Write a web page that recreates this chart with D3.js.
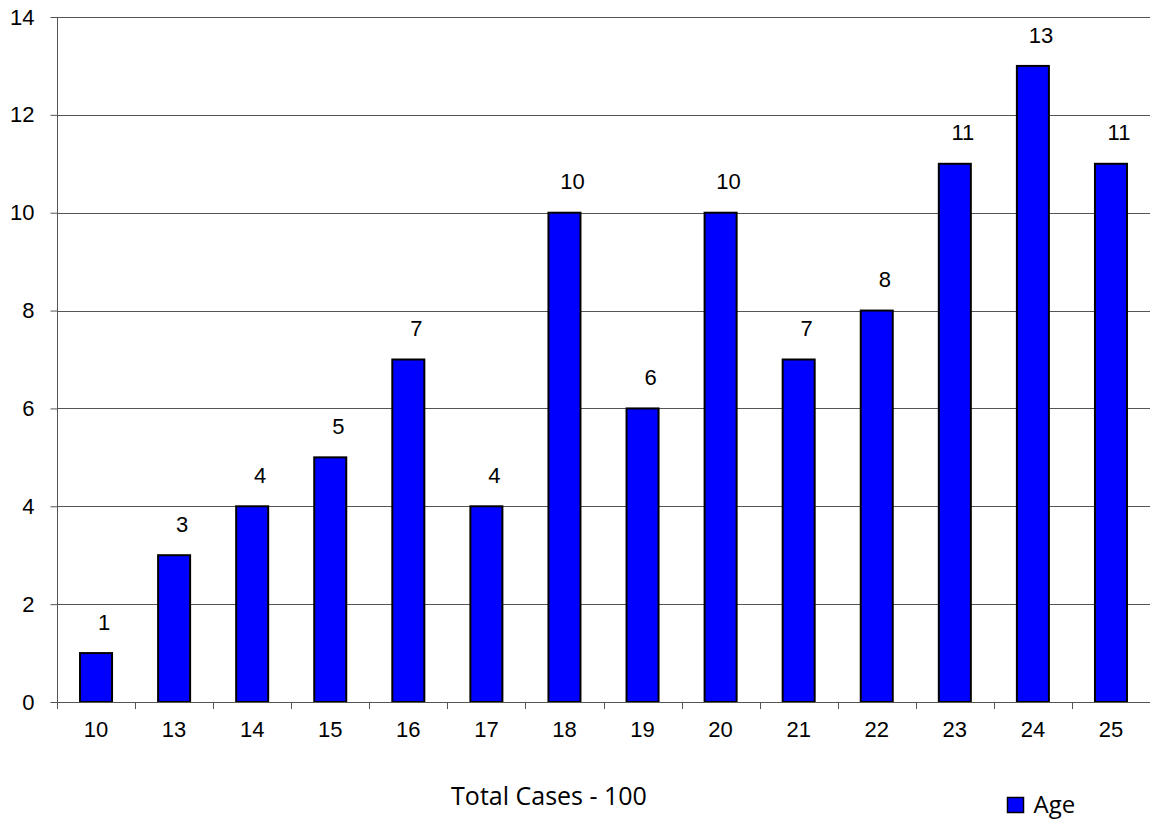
<!DOCTYPE html>
<html>
<head>
<meta charset="utf-8">
<script src="https://cdn.jsdelivr.net/npm/d3@7"></script>
<style>
  body { margin: 0; background: #fff; }
  svg { display: block; }
</style>
</head>
<body>
<svg id="chart" width="1150" height="821"></svg>
<script>
const ages = ["10", "13", "14", "15", "16", "17", "18", "19", "20", "21", "22", "23", "24", "25"];
const counts = [1, 3, 4, 5, 7, 4, 10, 6, 10, 7, 8, 11, 13, 11];
const yTicks = [0, 2, 4, 6, 8, 10, 12, 14];
const seriesName = "Age";
const footer = "Total Cases - 100";

const data = ages.map((a, i) => ({ age: a, value: counts[i] }));

const svg = d3.select("#chart");
const margin = { top: 17, right: 0, bottom: 119, left: 57 };
const W = +svg.attr("width"), H = +svg.attr("height");
const sans = "'Liberation Sans', Arimo, Arial, sans-serif";
const calibriLike = "'Open Sans', 'Noto Sans', sans-serif";

const x = d3.scaleBand()
  .domain(ages)
  .range([margin.left, W - margin.right])
  .padding(0);

const y = d3.scaleLinear()
  .domain([0, 14])
  .range([H - margin.bottom, margin.top]);

const barW = x.bandwidth() * 0.41;

// gridlines
svg.append("g")
  .selectAll("line")
  .data(yTicks.filter(t => t > 0))
  .enter()
  .append("line")
  .attr("x1", margin.left)
  .attr("x2", W)
  .attr("y1", d => Math.round(y(d)) + 0.5)
  .attr("y2", d => Math.round(y(d)) + 0.5)
  .attr("stroke", "#555")
  .attr("stroke-width", 1);

// y axis
const yAxis = svg.append("g")
  .attr("transform", `translate(${margin.left + 0.5},0)`)
  .call(d3.axisLeft(y).tickValues(yTicks).tickSize(7).tickPadding(16).tickFormat(d3.format("d")));
yAxis.select(".domain").attr("stroke", "#555").attr("d", `M0,${y(14)}V${y(0)}`);
yAxis.selectAll(".tick line").attr("stroke", "#555");
yAxis.selectAll(".tick text")
  .style("font-family", sans)
  .style("font-size", "22px")
  .attr("fill", "#000");

// bars
svg.append("g")
  .selectAll("rect")
  .data(data)
  .enter()
  .append("rect")
  .attr("x", d => x(d.age) + (x.bandwidth() - barW) / 2)
  .attr("y", d => y(d.value))
  .attr("width", barW)
  .attr("height", d => y(0) - y(d.value))
  .attr("fill", "#0000ff")
  .attr("stroke", "#000")
  .attr("stroke-width", 2);

// x axis
const xAxis = svg.append("g")
  .attr("transform", `translate(0,${Math.round(y(0)) + 0.5})`)
  .call(d3.axisBottom(x).tickSize(0).tickPadding(19));
xAxis.select(".domain").attr("stroke", "#555").attr("d", `M${margin.left},0H${W}`);
xAxis.selectAll(".tick text")
  .style("font-family", sans)
  .style("font-size", "22px")
  .attr("fill", "#000");

// category boundary ticks
svg.append("g")
  .selectAll("line")
  .data(ages)
  .enter()
  .append("line")
  .attr("x1", d => Math.round(x(d)) + 0.5)
  .attr("x2", d => Math.round(x(d)) + 0.5)
  .attr("y1", y(0))
  .attr("y2", y(0) + 7)
  .attr("stroke", "#555");

// value labels
svg.append("g")
  .selectAll("text")
  .data(data)
  .enter()
  .append("text")
  .attr("x", d => x(d.age) + x.bandwidth() / 2 + 8)
  .attr("y", d => y(d.value) - 31)
  .attr("dy", "0.35em")
  .attr("text-anchor", "middle")
  .style("font-family", sans)
  .style("font-size", "22px")
  .text(d => d.value);

// footer text
svg.append("text")
  .attr("x", 549)
  .attr("y", 805)
  .attr("text-anchor", "middle")
  .style("font-family", calibriLike)
  .style("font-size", "25px")
  .text(footer);

// legend
const legend = svg.append("g").attr("transform", "translate(1007.5,797.5)");
legend.append("rect")
  .attr("width", 16)
  .attr("height", 15)
  .attr("fill", "#0000ff")
  .attr("stroke", "#000")
  .attr("stroke-width", 1.5);
legend.append("text")
  .attr("x", 26)
  .attr("y", 15.5)
  .style("font-family", calibriLike)
  .style("font-size", "24px")
  .text(seriesName);
</script>
</body>
</html>
